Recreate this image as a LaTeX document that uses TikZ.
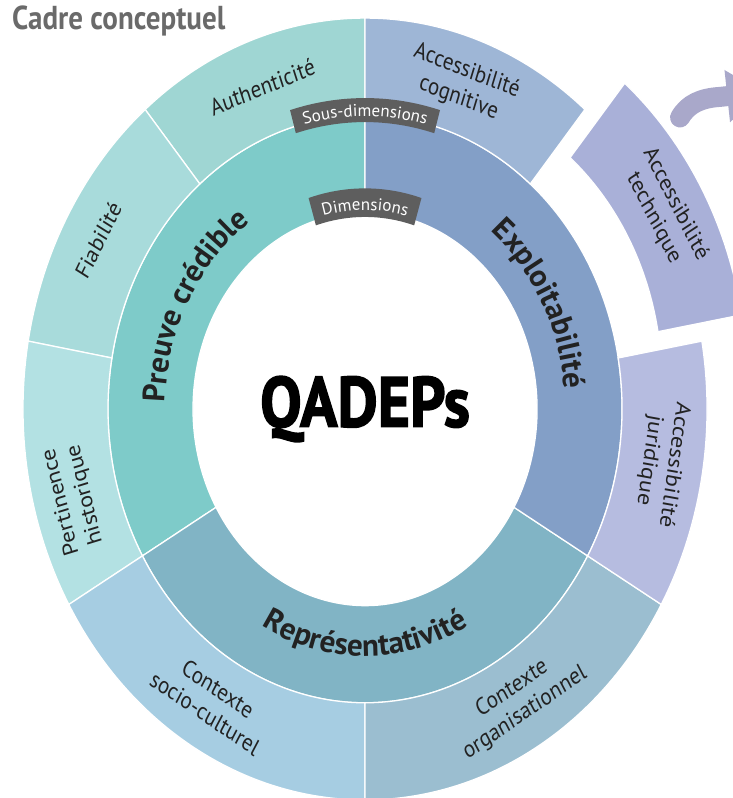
\documentclass[tikz,border=0pt]{standalone}
\usepackage{fontspec}
\setmainfont{PT Sans}
\usetikzlibrary{decorations.text,calc,arrows.meta}
\definecolor{cPreuve}{HTML}{7ECBC9}
\definecolor{cRepr}{HTML}{81B4C5}
\definecolor{cExpl}{HTML}{839FC7}
\definecolor{cAuth}{HTML}{9FD6D3}
\definecolor{cFiab}{HTML}{A8DBDB}
\definecolor{cPert}{HTML}{B3E1E3}
\definecolor{cSocio}{HTML}{A6CDE2}
\definecolor{cOrg}{HTML}{9BBED0}
\definecolor{cJur}{HTML}{B6BCE0}
\definecolor{cTech}{HTML}{A9B0D8}
\definecolor{cCog}{HTML}{9EB6D6}
\definecolor{cBanner}{HTML}{5E5E5E}
\definecolor{cTitle}{HTML}{6A6A6A}
\definecolor{cArrow}{HTML}{A9A8CA}
\definecolor{cText}{HTML}{222222}
\font\qadepsfont="PT Sans/B:embolden=2.2" at 62pt
\newcommand{\annsec}[5]{\fill[#1,draw=white,line width=1.3pt] (#4:#2pt) arc[start angle=#4,end angle=#5,radius=#2pt] -- (#5:#3pt) arc[start angle=#5,end angle=#4,radius=#3pt] -- cycle;}
\begin{document}
\begin{tikzpicture}[x=1pt,y=1pt,
  sublabel/.style={font=\fontsize{21}{25}\selectfont, text=cText, align=center, transform shape, inner sep=0pt},
  titlelabel/.style={font=\fontsize{29}{31}\selectfont\bfseries, text=cTitle, transform shape, inner sep=0pt},
  centerlabel/.style={font=\qadepsfont, text=black, transform shape, inner sep=0pt}]
\begin{scope}[yscale=1.143]
\useasboundingbox (-365,-340.3) rectangle (367,357.8);
% dimension ring
\annsec{cPreuve}{172}{257}{90}{210}
\annsec{cRepr}{172}{257}{210}{330}
\annsec{cExpl}{172}{257}{-30}{90}
% sub-dimension ring
\annsec{cAuth}{257}{342}{90}{130}
\annsec{cFiab}{257}{342}{130}{170}
\annsec{cPert}{257}{342}{170}{210}
\annsec{cSocio}{257}{342}{210}{270}
\annsec{cOrg}{257}{342}{270}{330}
\annsec{cJur}{257}{342}{-30}{10}
\annsec{cCog}{257}{342}{50}{90}
\begin{scope}[shift={(39.8,23)}]
\annsec{cTech}{257}{342}{10}{50}
\end{scope}
% arrow leaving the picture
\coordinate (arrS) at (315,255);
\coordinate (arrB) at (355,273);
\coordinate (arrE) at (398,277);
\draw[cArrow,line width=20pt,line cap=round,-{Triangle[width=50pt,length=36pt]}] (arrS) .. controls (323,267) and (336,272) .. (arrB) -- (arrE);
% banners
\fill[cBanner] (106:251pt) arc[start angle=106,end angle=74,radius=251pt] -- (74:272pt) arc[start angle=74,end angle=106,radius=272pt] -- cycle;
\path[decorate,decoration={text along path,text align=center,
  text={|\color{white}\fontsize{17}{17}\selectfont|Sous-dimensions}}]
  (110:256pt) arc[start angle=110,end angle=70,radius=256pt];
\fill[cBanner] (107:168pt) arc[start angle=107,end angle=73,radius=168pt] -- (73:193pt) arc[start angle=73,end angle=107,radius=193pt] -- cycle;
\path[decorate,decoration={text along path,text align=center,
  text={|\color{white}\fontsize{17}{17}\selectfont|Dimensions}}]
  (115:174pt) arc[start angle=115,end angle=65,radius=174pt];
% dimension labels
\path[decorate,decoration={text along path,text align=center,
  text={|\color{cText}\fontsize{31}{31}\selectfont\bfseries|Preuve crédible}}]
  (210:200pt) arc[start angle=210,end angle=90,radius=200pt];
\path[decorate,decoration={text along path,text align=center,
  text={|\color{cText}\fontsize{31}{31}\selectfont\bfseries|Exploitabilité}}]
  (90:200pt) arc[start angle=90,end angle=-30,radius=200pt];
\path[decorate,decoration={text along path,text align=center,
  text={|\color{cText}\fontsize{31}{31}\selectfont\bfseries|Représentativité}}]
  (210:216pt) arc[start angle=210,end angle=330,radius=216pt];
% centre
\node[centerlabel] (qadeps) at (0,0) {QADEPs};
% title
\node[titlelabel,anchor=west] (title) at (-353,339.5) {Cadre conceptuel};
% sub-dimension labels
\node[sublabel,rotate=20] (auth) at (110:300) {Authenticité};
\node[sublabel,rotate=61] (fiab) at (151:305) {Fiabilité};
\node[sublabel,rotate=105] (pert) at (195:302) {Pertinence\\historique};
\node[sublabel,rotate=-31] (socio) at (239:298) {Contexte\\socio-culturel};
\node[sublabel,rotate=31] (org) at (301:298) {Contexte\\organisationnel};
\node[sublabel,rotate=-99] (jur) at (-9:300) {Accessibilité\\juridique};
\node[sublabel,rotate=-60] (tech) at ($(30:300)+(39.8,23)$) {Accessibilité\\technique};
\node[sublabel,rotate=-19] (cog) at (71:300) {Accessibilité\\cognitive};
\end{scope}
\end{tikzpicture}
\end{document}
